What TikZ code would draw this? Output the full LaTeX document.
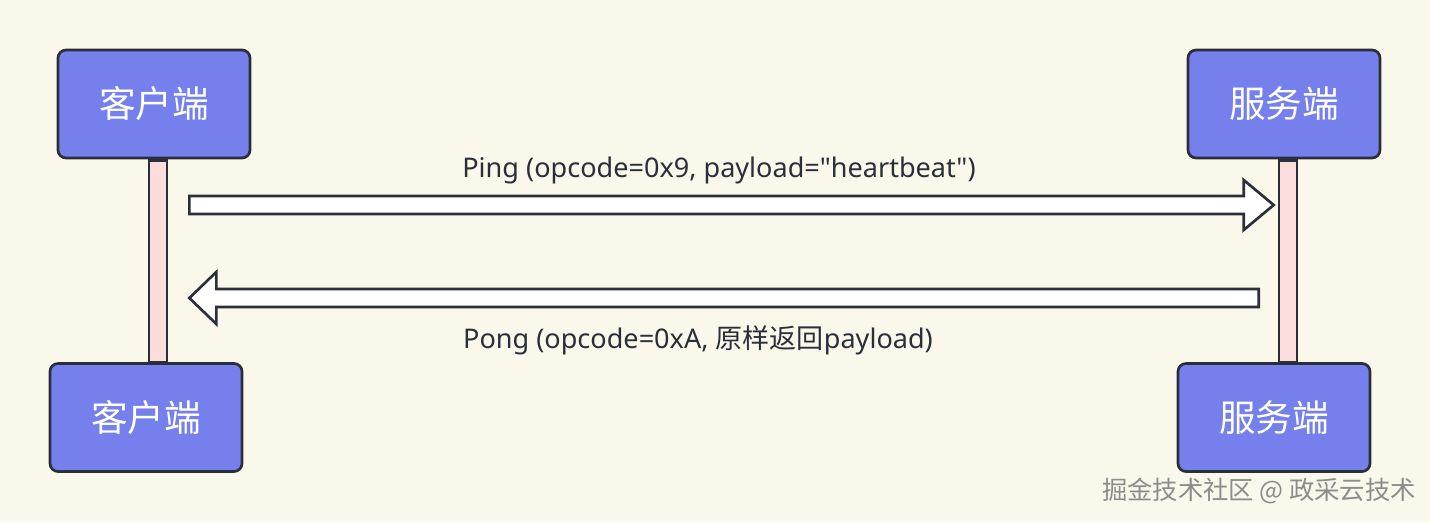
\documentclass[tikz,border=0pt]{standalone}
\usepackage{fontspec}
\setmainfont{Noto Sans}[Ligatures=TeXReset]
\newfontfamily\cjk{Noto Sans CJK SC}
\usetikzlibrary{positioning,calc}
\definecolor{bgcream}{RGB}{250,248,234}
\definecolor{actorblue}{RGB}{117,128,236}
\definecolor{lifepink}{RGB}{251,221,219}
\definecolor{edgedark}{RGB}{43,47,58}
\tikzset{
  actor/.style={draw=edgedark, line width=2pt, fill=actorblue, rounded corners=6pt,
    minimum width=144pt, minimum height=81pt, text=white, font=\cjk\fontsize{27.5}{32}\selectfont},
  lifeline/.style={draw=edgedark, line width=2pt, fill=lifepink,
    minimum width=13.5pt, minimum height=151.5pt, inner sep=0pt},
  msg/.style={draw=edgedark, line width=2pt, fill=white, line join=miter},
  msglabel/.style={text=edgedark, font=\fontsize{20.3}{24}\selectfont}
}
\begin{document}
\begin{tikzpicture}[x=0.75pt, y=-0.75pt]
    \fill[bgcream] (0,0) rectangle (1430,522);
    \useasboundingbox (0,0) rectangle (1430,522);

    % actors
    \node[actor] (client) at (154,104) {客户端};
    \node[actor] (server) at (1284,104) {服务端};
    \node[actor] (client2) at (146,417.5) {客户端};
    \node[actor] (server2) at (1274,417.5) {服务端};

    % lifelines
    \node[lifeline, below=0pt of client, xshift=3pt] (cl) {};
    \node[lifeline, below=0pt of server, xshift=3pt] (sl) {};

    % Ping
    \coordinate (pingS) at ($(cl.east |- 0,205)+(21,0)$);
    \coordinate (pingT) at ($(sl.west |- 0,205)+(-4,0)$);
    \draw[msg] ($(pingS)+(0,-9)$) -- ($(pingT)+(-30,-9)$) -- ($(pingT)+(-30,-25)$) -- (pingT)
      -- ($(pingT)+(-30,25)$) -- ($(pingT)+(-30,9)$) -- ($(pingS)+(0,9)$) -- cycle;
    \node[msglabel] (pinglabel) at (719,170) {Ping (opcode=0x9, payload="heartbeat")};

    % Pong
    \coordinate (pongS) at ($(sl.west |- 0,298)+(-19,0)$);
    \coordinate (pongT) at ($(cl.east |- 0,298)+(21,0)$);
    \draw[msg] ($(pongS)+(0,-9)$) -- ($(pongT)+(27,-9)$) -- ($(pongT)+(27,-26)$) -- (pongT)
      -- ($(pongT)+(27,26)$) -- ($(pongT)+(27,9)$) -- ($(pongS)+(0,9)$) -- cycle;
    \node[msglabel] (ponglabel) at (698,340) {Pong (opcode=0xA, {\cjk 原样返回}payload)};

    % watermark
    \node[text=black!45, font=\cjk\fontsize{19}{22}\selectfont] (mark) at (1259,491) {掘金技术社区 @ 政采云技术};
\end{tikzpicture}
\end{document}
